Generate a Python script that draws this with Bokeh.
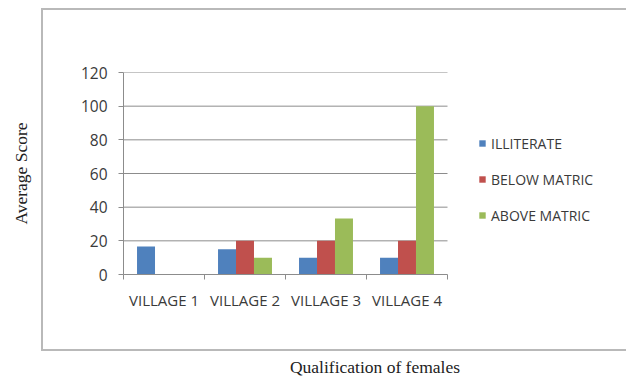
from bokeh.plotting import figure
from bokeh.models import (Range1d, LinearAxis, FixedTicker, Legend, LegendItem,
                          ColumnDataSource, InlineStyleSheet)
from bokeh.transform import dodge
from bokeh.embed import file_html
from bokeh.resources import INLINE

villages = ["VILLAGE 1", "VILLAGE 2", "VILLAGE 3", "VILLAGE 4"]
illiterate = [16.67, 15, 10, 10]
below_matric = [0, 20, 20, 20]
above_matric = [0, 10, 33.33, 100]
series_names = ["ILLITERATE", "BELOW MATRIC", "ABOVE MATRIC"]
y_ticks = [0, 20, 40, 60, 80, 100, 120]

colors = ["#4F81BD", "#C0504D", "#9BBB59"]
tick_font = "Open Sans"
grid_color = "#8c8c8c"
text_color = "#3a3a3a"

n = len(villages)
centers = [i + 0.5 for i in range(n)]
src = ColumnDataSource(dict(pos=centers, ill=illiterate,
                            below=below_matric, above=above_matric))

# the frame runs to the right edge so the legend can live inside it;
# the villages occupy the first 324 px of the 503 px wide frame
W, H = 626, 379
left, top, bottom = 123, 72, 104
x_end = n * (W - left) / 324.0

p = figure(width=W, height=H, output_backend="svg", toolbar_location=None,
           x_range=Range1d(0, x_end), y_range=Range1d(0, 120),
           x_axis_location=None,
           min_border_left=left, min_border_right=0,
           min_border_top=top, min_border_bottom=bottom)
p.outline_line_color = None
p.background_fill_color = "white"
p.border_fill_color = "white"
p.xgrid.grid_line_color = None
p.ygrid.grid_line_color = None

# horizontal gridlines across the village block only
p.segment(x0=0, x1=n, y0=y_ticks[1:], y1=y_ticks[1:],
          line_color=grid_color, line_width=1)

bw = 0.222
items = []
for i, (col, name) in enumerate(zip(["ill", "below", "above"], series_names)):
    r = p.vbar(x=dodge("pos", (i - 1) * bw), top=col,
               width=bw, source=src, fill_color=colors[i], line_color=None)
    items.append(LegendItem(label=name, renderers=[r]))

# y axis
ya = p.yaxis[0]
ya.ticker = FixedTicker(ticks=y_ticks)
ya.axis_line_color = grid_color
ya.major_tick_line_color = grid_color
ya.major_tick_out = 5
ya.major_tick_in = 0
ya.minor_tick_line_color = None
ya.major_label_text_font = tick_font
ya.major_label_text_font_size = "15.5px"
ya.major_label_text_color = text_color
ya.major_label_standoff = 11
ya.axis_label = "Average Score"
ya.axis_label_text_font = "Liberation Serif"
ya.axis_label_text_font_size = "17.5px"
ya.axis_label_text_font_style = "normal"
ya.axis_label_text_color = "#222222"
ya.axis_label_standoff = 47

# x axis line with tick marks on the boundaries between villages
edge_axis = LinearAxis(ticker=FixedTicker(ticks=list(range(n + 1))), bounds=(0, n),
                       axis_line_color=grid_color, major_tick_line_color=grid_color,
                       major_tick_out=5, major_tick_in=0, minor_tick_line_color=None,
                       major_label_text_font_size="0px", major_label_standoff=0)
p.add_layout(edge_axis, "below")

# village names centred under each group
name_axis = LinearAxis(ticker=FixedTicker(ticks=centers), bounds=(0, n),
                       major_label_overrides={c: v for c, v in zip(centers, villages)},
                       axis_line_color=None, major_tick_line_color=None,
                       minor_tick_line_color=None,
                       major_label_text_font=tick_font,
                       major_label_text_font_size="15px",
                       major_label_text_color=text_color,
                       major_label_standoff=4,
                       axis_label="Qualification of females",
                       axis_label_text_font="Liberation Serif",
                       axis_label_text_font_size="17.5px",
                       axis_label_text_font_style="normal",
                       axis_label_text_color="#222222",
                       axis_label_standoff=44)
p.add_layout(name_axis, "below")

legend = Legend(items=items, location=(355, 49), glyph_width=8, glyph_height=8,
                label_text_font=tick_font, label_text_font_size="14px",
                label_text_color=text_color, spacing=16, label_standoff=5,
                border_line_color=None, background_fill_alpha=0, padding=0,
                margin=0, label_height=20)
p.add_layout(legend)

# light grey frame around the chart body (open on the right side)
p.stylesheets = [InlineStyleSheet(css="""
:host::after {
  content: "";
  position: absolute;
  left: 41px; top: 8px; width: 585px; height: 343px;
  box-sizing: border-box;
  border: 2px solid #b9b9b9;
  border-right: none;
  pointer-events: none;
}
""")]

open("out.html", "w").write(file_html(p, INLINE))
